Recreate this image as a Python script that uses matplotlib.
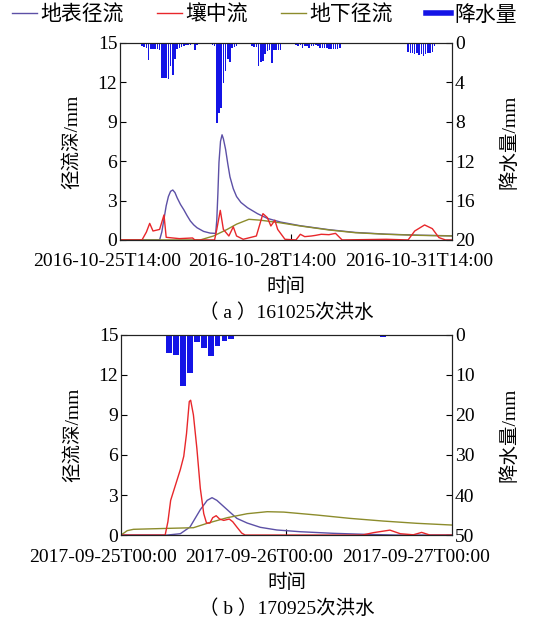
import matplotlib

matplotlib.use("Agg")
import matplotlib.pyplot as plt
import numpy as np
from matplotlib.lines import Line2D

plt.rcParams["font.family"] = ["Liberation Serif", "Noto Sans CJK SC"]
plt.rcParams["font.size"] = 14

# ---- (a) 161025: hourly rainfall (hour index 0..151)
rain_a = np.zeros(152)
rain_a_vals = {
    10: 0.3, 11: 0.4, 12: 0.5, 13: 1.7, 14: 0.6, 15: 0.6, 16: 0.6, 17: 0.6, 18: 0.7,
    19: 3.6, 20: 3.6, 21: 3.6, 22: 3.7, 23: 2.4, 24: 3.3, 25: 1.6, 26: 0.6, 27: 0.5,
    28: 0.4, 29: 0.3, 30: 0.2, 31: 0.2, 32: 0.2, 33: 0.1, 34: 0.7, 35: 0.2,
    41: 0.1, 42: 0.2, 43: 0.3, 44: 8.1, 45: 7.1, 46: 6.6, 47: 4.1, 48: 2.9, 49: 1.6,
    50: 2.0, 51: 0.5, 52: 0.4, 53: 0.3, 56: 0.1, 57: 0.1, 59: 0.1, 60: 0.3, 61: 0.4,
    62: 0.4, 63: 2.4, 64: 1.9, 65: 1.8, 66: 1.1, 67: 0.8, 68: 0.7, 69: 2.1, 70: 0.7,
    71: 0.7, 72: 0.7, 73: 0.7, 79: 0.1, 80: 0.2, 81: 0.3, 82: 0.2, 83: 0.5, 84: 0.3,
    85: 0.3, 86: 0.5, 87: 0.3, 88: 0.3, 89: 0.2, 90: 0.3, 91: 0.5, 92: 0.5, 93: 0.5,
    94: 0.5, 95: 0.6, 96: 0.6, 97: 0.6, 98: 0.6, 99: 0.6, 100: 0.5, 119: 0.1,
    131: 0.9, 132: 1.0, 133: 1.0, 134: 1.1, 135: 1.0, 136: 1.2, 137: 1.1, 138: 1.35,
    139: 1.1, 140: 1.0, 141: 1.0, 142: 0.9, 143: 0.3, 146: 0.15,
}
for h, v in rain_a_vals.items():
    rain_a[h] = v
hours_a = np.arange(len(rain_a))

surf_a_t = [0, 18, 19, 20, 21, 22, 23, 24, 25, 26, 27.5, 29, 30.5, 32, 33.5, 35, 38, 41,
            43.5, 44, 44.5, 45, 45.7, 46.4, 47, 48, 49, 50, 51.5, 53, 55, 58, 62.5, 67,
            73, 82, 95, 107, 121, 136, 152]
surf_a_v = [0, 0, 0.6, 1.6, 2.6, 3.3, 3.7, 3.8, 3.6, 3.2, 2.7, 2.3, 1.85, 1.44, 1.15,
            0.93, 0.65, 0.52, 0.5, 1.5, 3.5, 5.9, 7.5, 8.0, 7.7, 6.9, 5.8, 4.8, 3.9, 3.3,
            2.85, 2.45, 2.0, 1.64, 1.36, 1.08, 0.78, 0.57, 0.44, 0.36, 0.31]
inter_a_t = [0, 10, 12, 13.5, 15, 18, 20, 21, 27, 33, 34, 43, 44, 45.6, 47, 49.5, 51.5,
             53, 56, 62, 65, 67, 68.6, 70.4, 71.7, 75, 80, 82, 84, 87, 89, 91.5, 95, 98,
             101, 121, 131, 134, 138.5, 142, 145, 148, 152]
inter_a_v = [0, 0, 0.6, 1.26, 0.68, 0.8, 1.9, 0.2, 0.1, 0.15, 0, 0, 0.8, 2.25, 0.8, 0.3,
             1.0, 0.3, 0.05, 0.3, 2.0, 1.7, 1.06, 1.5, 0.8, 0.05, 0, 0.43, 0.25, 0.3, 0.35,
             0.43, 0.4, 0.5, 0, 0.05, 0, 0.68, 1.14, 0.86, 0.18, 0, 0]
base_a_t = [0, 36.5, 42.5, 48.7, 53, 58.6, 64, 73, 82, 95, 107, 121, 136, 152]
base_a_v = [0, 0, 0.3, 0.8, 1.2, 1.57, 1.5, 1.3, 1.06, 0.76, 0.55, 0.43, 0.35, 0.3]

# ---- (b) 170925: hourly rainfall (hour index 0..47)
rain_b_hours = [6, 7, 8, 9, 10, 11, 12, 13, 14, 15, 16, 36, 37, 38, 39, 42, 43]
rain_b = [0.4, 4.6, 5.0, 12.75, 9.6, 1.7, 3.3, 5.2, 2.9, 1.5, 1.0, 0.4, 0.3, 0.5, 0.2, 0.3, 0.3]

surf_b_t = [0, 6.7, 8.6, 10, 11.5, 12.5, 13.2, 13.9, 15.4, 16.8, 18.3, 20.2, 22.6, 26,
            30.8, 35.7, 40, 48]
surf_b_v = [0, 0, 0.1, 0.6, 1.9, 2.6, 2.8, 2.6, 1.9, 1.25, 0.9, 0.58, 0.38, 0.25, 0.13,
            0.05, 0, 0]
inter_b_t = [0, 6.4, 6.8, 7.2, 7.9, 8.6, 9.1, 9.5, 9.9, 10.1, 10.5, 11, 11.5, 12, 12.4,
             12.9, 13.3, 13.8, 14.3, 14.9, 15.7, 16.2, 16.8, 17.5, 18, 35, 36.6, 39, 40.5,
             42.4, 43.6, 44.8, 48]
inter_b_v = [0, 0, 1.0, 2.6, 3.75, 4.9, 5.9, 7.6, 10.0, 10.1, 9.0, 6.5, 3.5, 1.6, 0.9,
             0.9, 1.3, 1.45, 1.2, 1.1, 1.2, 1.0, 0.6, 0.15, 0, 0, 0.18, 0.37, 0.1, 0.02,
             0.2, 0, 0]
base_b_t = [0, 0.9, 1.8, 6.7, 10.5, 12.5, 15.4, 18.3, 21.2, 23.6, 28.4, 33.2, 38, 42.9, 48]
base_b_v = [0, 0.33, 0.43, 0.5, 0.55, 0.88, 1.3, 1.6, 1.75, 1.72, 1.5, 1.25, 1.05, 0.88, 0.75]

labels_a = ["2016-10-25T14:00", "2016-10-28T14:00", "2016-10-31T14:00"]
labels_b = ["2017-09-25T00:00", "2017-09-26T00:00", "2017-09-27T00:00"]

C_SURF = "#5c50a6"
C_INTER = "#e8272b"
C_BASE = "#8c8c2c"
C_RAIN = "#1414e6"


def panel(ax, rh, rv, rmax, rticks, bar_w, xmax, mid, lines, labels, label_x, caption):
    ax.set_xlim(0, xmax)
    ax.set_ylim(0, 15)
    ax.set_yticks([0, 3, 6, 9, 12, 15])
    ax.set_xticks([mid])
    ax.set_xticklabels([""])
    ax.tick_params(direction="in", length=4, width=0.8, labelsize=14, pad=2)
    ax.set_ylabel("径流深/mm", fontsize=14, labelpad=12)
    for t, v, c in lines:
        ax.plot(t, v, color=c, lw=1.0)
    ax2 = ax.twinx()
    ax2.bar(rh, rv, width=bar_w, color=C_RAIN, linewidth=0)
    ax2.set_ylim(rmax, 0)
    ax2.set_yticks(rticks)
    ax2.tick_params(direction="in", length=4, width=0.8, labelsize=14, pad=2)
    ax2.set_ylabel("降水量/mm", fontsize=14, labelpad=18)
    for sp in list(ax.spines.values()) + list(ax2.spines.values()):
        sp.set_linewidth(0.8)
        sp.set_color("#222222")
    for lab, fx in zip(labels, label_x):
        ax.text(fx, -0.11, lab, transform=ax.transAxes, ha="center", va="center", fontsize=14)
    ax.text(0.5, -0.24, "时间", transform=ax.transAxes, ha="center", va="center", fontsize=14)
    ax.text(0.5, -0.37, caption, transform=ax.transAxes, ha="center", va="center", fontsize=14)


fig = plt.figure(figsize=(5.6, 6.2), dpi=100)
ax_a = fig.add_axes([0.2143, 0.613, 0.593, 0.318])
ax_b = fig.add_axes([0.2161, 0.137, 0.591, 0.323])

panel(ax_a, hours_a, rain_a, 20, [0, 4, 8, 12, 16, 20], 0.7, 151, 77.8,
      [(surf_a_t, surf_a_v, C_SURF), (base_a_t, base_a_v, C_BASE), (inter_a_t, inter_a_v, C_INTER)],
      labels_a, [-0.039, 0.428, 0.90], "（ a ）161025次洪水")
panel(ax_b, rain_b_hours, rain_b, 50, [0, 10, 20, 30, 40, 50], 0.85, 48, 24,
      [(surf_b_t, surf_b_v, C_SURF), (base_b_t, base_b_v, C_BASE), (inter_b_t, inter_b_v, C_INTER)],
      labels_b, [-0.054, 0.417, 0.891], "（ b ）170925次洪水")

handles = [
    Line2D([], [], color=C_SURF, lw=1.0),
    Line2D([], [], color=C_INTER, lw=1.0),
    Line2D([], [], color=C_BASE, lw=1.0),
    Line2D([], [], color=C_RAIN, lw=4),
]
fig.legend(handles, ["地表径流", "壤中流", "地下径流", "降水量"], loc="center",
           bbox_to_anchor=(0.472, 0.975), ncol=4, frameon=False, fontsize=15,
           handlelength=1.2, handletextpad=0.15, columnspacing=1.6)

fig.savefig("out.png", dpi=100)
